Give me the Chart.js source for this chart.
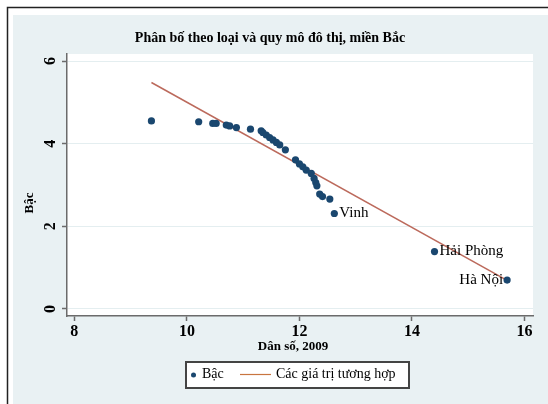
<!DOCTYPE html>
<html>
<head>
<meta charset="utf-8">
<script src="https://cdn.jsdelivr.net/npm/chart.js@4/dist/chart.umd.min.js"></script>
<style>
  html, body { margin: 0; padding: 0; background: #fff; }
  #myChart { display: block; }
</style>
</head>
<body>
<canvas id="myChart" width="548" height="404" style="width:548px;height:404px"></canvas>
<script>
// data
const danSo = [9.37, 10.21, 10.46, 10.52, 10.70, 10.76, 10.88, 11.13, 11.32, 11.35,
               11.41, 11.47, 11.53, 11.59, 11.65, 11.75, 11.93, 12.00, 12.06, 12.12,
               12.21, 12.26, 12.29, 12.31, 12.36, 12.41, 12.54, 12.62, 14.40, 15.69];
const bac = [4.55, 4.53, 4.49, 4.49, 4.45, 4.43, 4.39, 4.35, 4.31, 4.27,
             4.21, 4.15, 4.09, 4.03, 3.97, 3.85, 3.61, 3.51, 3.44, 3.36,
             3.28, 3.16, 3.06, 2.98, 2.78, 2.72, 2.66, 2.31, 1.39, 0.70];
const fitX = [9.37, 15.69];
const fitY = [5.48, 0.69];
const cityNames = ['Vinh', 'Hải Phòng', 'Hà Nội'];
const cityIndex = [27, 28, 29];
const citySide = ['right', 'right', 'left'];
const xTicks = [8, 10, 12, 14, 16];
const yTicks = [0, 2, 4, 6];
const title = 'Phân bố theo loại và quy mô đô thị, miền Bắc';
const xTitle = 'Dân số, 2009';
const yTitle = 'Bậc';

const navy = '#1a476f';
const fitColor = '#bc6a5c';
const serif = '"Liberation Serif", "DejaVu Serif", serif';

var scatterData = danSo.map(function (v, i) { return { x: v, y: bac[i] }; });
var fitData = fitX.map(function (v, i) { return { x: v, y: fitY[i] }; });

// panel, frame and white plot region
const backPlugin = {
    id: 'back',
    beforeDraw: function (chart) {
        var ctx = chart.ctx, a = chart.chartArea;
        ctx.save();
        ctx.fillStyle = '#fff';
        ctx.fillRect(0, 0, chart.width, chart.height);
        ctx.fillStyle = '#e9f1f3';
        ctx.fillRect(13, 15, chart.width - 13, chart.height - 15);
        ctx.strokeStyle = '#222';
        ctx.lineWidth = 1.5;
        ctx.beginPath();
        ctx.moveTo(7.5, chart.height);
        ctx.lineTo(7.5, 7.5);
        ctx.lineTo(chart.width, 7.5);
        ctx.stroke();
        ctx.fillStyle = '#fff';
        ctx.fillRect(a.left, a.top, a.right - a.left, a.bottom - a.top);
        ctx.restore();
    }
};

// texts and legend
const textPlugin = {
    id: 'texts',
    afterDraw: function (chart) {
        var ctx = chart.ctx;
        var xs = chart.scales.x, ys = chart.scales.y;
        ctx.save();
        ctx.fillStyle = '#000';

        ctx.font = 'bold 14px ' + serif;
        ctx.textAlign = 'center';
        ctx.textBaseline = 'middle';
        ctx.fillText(title, 270, 38);

        // tick labels
        ctx.font = 'bold 16px ' + serif;
        xTicks.forEach(function (v) {
            ctx.fillText(String(v), xs.getPixelForValue(v), 332);
        });
        yTicks.forEach(function (v) {
            ctx.save();
            ctx.translate(51, ys.getPixelForValue(v));
            ctx.rotate(-Math.PI / 2);
            ctx.fillText(String(v), 0, 0);
            ctx.restore();
        });

        ctx.font = 'bold 13px ' + serif;
        ctx.save();
        ctx.translate(30, 203);
        ctx.rotate(-Math.PI / 2);
        ctx.fillText(yTitle, 0, 0);
        ctx.restore();
        ctx.fillText(xTitle, 293, 347);

        // city labels
        ctx.font = '15px ' + serif;
        cityIndex.forEach(function (idx, k) {
            var px = xs.getPixelForValue(danSo[idx]);
            var py = ys.getPixelForValue(bac[idx]);
            if (citySide[k] === 'right') {
                ctx.textAlign = 'left';
                ctx.fillText(cityNames[k], px + 5, py);
            } else {
                ctx.textAlign = 'right';
                ctx.fillText(cityNames[k], px - 4, py);
            }
        });

        // legend
        ctx.fillStyle = '#fff';
        ctx.fillRect(186, 362, 223, 26);
        ctx.strokeStyle = '#444';
        ctx.lineWidth = 2;
        ctx.strokeRect(186, 362, 223, 26);
        ctx.fillStyle = navy;
        ctx.beginPath();
        ctx.arc(193.5, 375, 2.5, 0, Math.PI * 2);
        ctx.fill();
        ctx.fillStyle = '#000';
        ctx.font = '14px ' + serif;
        ctx.textAlign = 'left';
        ctx.fillText(chart.data.datasets[0].label, 202, 374);
        ctx.strokeStyle = '#c8753f';
        ctx.lineWidth = 1.2;
        ctx.beginPath();
        ctx.moveTo(240, 374.5);
        ctx.lineTo(271, 374.5);
        ctx.stroke();
        ctx.fillText(chart.data.datasets[1].label, 276, 374);
        ctx.restore();
    }
};

var ctx = document.getElementById('myChart').getContext('2d');
var myChart = new Chart(ctx, {
    type: 'scatter',
    data: {
        datasets: [
            {
                label: 'Bậc',
                data: scatterData,
                backgroundColor: navy,
                borderWidth: 0,
                pointRadius: 3.6
            },
            {
                type: 'line',
                label: 'Các giá trị tương hợp',
                data: fitData,
                showLine: true,
                borderColor: fitColor,
                borderWidth: 1.5,
                pointRadius: 0,
                fill: false
            }
        ]
    },
    options: {
        responsive: false,
        animation: false,
        layout: { padding: { left: 0, right: 15, top: 54, bottom: 88 } },
        plugins: {
            legend: { display: false },
            tooltip: { enabled: false }
        },
        scales: {
            x: {
                type: 'linear',
                min: 7.87,
                max: 16.15,
                afterFit: function (s) { s.height = 0; },
                afterBuildTicks: function (s) { s.ticks = xTicks.map(function (v) { return { value: v }; }); },
                border: { display: true, color: '#6b6b6b', width: 1.5 },
                grid: { drawOnChartArea: false, drawTicks: true, tickLength: 5, tickColor: '#6b6b6b', tickWidth: 1.5 },
                ticks: { display: false }
            },
            y: {
                type: 'linear',
                min: -0.17,
                max: 6.17,
                afterFit: function (s) { s.width = 67; },
                afterBuildTicks: function (s) { s.ticks = yTicks.map(function (v) { return { value: v }; }); },
                border: { display: true, color: '#6b6b6b', width: 1.5 },
                grid: { color: '#e4eef0', lineWidth: 1, drawTicks: true, tickLength: 5, tickColor: '#6b6b6b', tickWidth: 1.5 },
                ticks: { display: false }
            }
        }
    },
    plugins: [backPlugin, textPlugin]
});
</script>
</body>
</html>
